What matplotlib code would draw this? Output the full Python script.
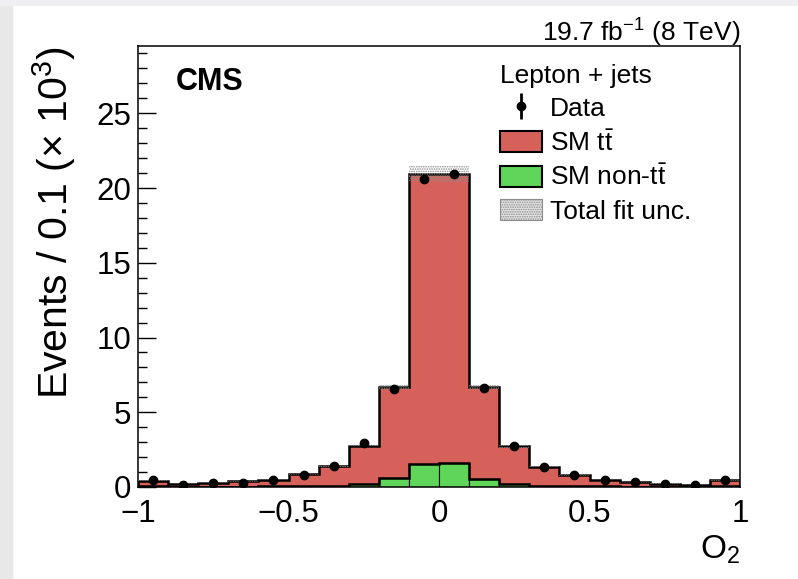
import numpy as np
import matplotlib
matplotlib.use("Agg")
import matplotlib.pyplot as plt
from matplotlib.patches import Patch, Rectangle
from matplotlib.ticker import MultipleLocator

plt.rcParams['font.family'] = ['Liberation Sans', 'DejaVu Sans']
plt.rcParams['mathtext.fontset'] = 'custom'
plt.rcParams['mathtext.rm'] = 'Liberation Sans'
plt.rcParams['mathtext.it'] = 'Liberation Sans:italic'
plt.rcParams['mathtext.bf'] = 'Liberation Sans:bold'
plt.rcParams['hatch.linewidth'] = 0.8

# O2 bins, events / 0.1 in units of 10^3
edges = np.linspace(-1.0, 1.0, 21)
sm_total = [0.42, 0.20, 0.30, 0.38, 0.50, 0.85, 1.38, 2.74, 6.70, 20.96,
            20.92, 6.66, 2.72, 1.36, 0.80, 0.47, 0.31, 0.22, 0.13, 0.45]
sm_nontt = [0.04, 0.02, 0.03, 0.03, 0.04, 0.05, 0.08, 0.18, 0.58, 1.54,
            1.63, 0.56, 0.20, 0.08, 0.05, 0.04, 0.03, 0.03, 0.02, 0.04]
fit_unc = [0.03, 0.02, 0.02, 0.02, 0.03, 0.04, 0.05, 0.08, 0.18, 0.52,
           0.52, 0.18, 0.08, 0.05, 0.04, 0.03, 0.02, 0.02, 0.02, 0.03]
data = [0.45, 0.13, 0.25, 0.30, 0.45, 0.80, 1.40, 2.92, 6.55, 20.63,
        20.92, 6.64, 2.72, 1.36, 0.78, 0.45, 0.31, 0.22, 0.15, 0.50]
data_err = [0.02, 0.01, 0.02, 0.02, 0.02, 0.03, 0.04, 0.05, 0.08, 0.14,
            0.14, 0.08, 0.05, 0.04, 0.03, 0.02, 0.02, 0.02, 0.01, 0.02]

red = '#d6605a'
green = '#5fd65a'

total = np.array(sm_total)
unc = np.array(fit_unc)
centers = 0.5 * (edges[:-1] + edges[1:])

fig = plt.figure(figsize=(7.98, 5.79), dpi=100)
fig.patches.append(Rectangle((0, 0), 12 / 798, 1, transform=fig.transFigure,
                             color='#e8e8e8', zorder=-1))
fig.patches.append(Rectangle((0, 1 - 5 / 579), 1, 5 / 579, transform=fig.transFigure,
                             color='#f0f0f4', zorder=-1))
ax = fig.add_axes([138 / 798, 92 / 579, 602 / 798, 441 / 579])

# stacked prediction: total (red) behind, non-ttbar (green) in front
ax.stairs(total, edges, baseline=0, fill=True, color=red, lw=0, zorder=1)
ax.stairs(total, edges, baseline=0, color='black', lw=1.8, zorder=3)
ax.bar(centers, sm_nontt, width=0.1, color=green, edgecolor='black', lw=0.8, zorder=2)
ax.stairs(sm_nontt, edges, baseline=0, color='black', lw=1.8, zorder=3)
ax.stairs(total + unc, edges, baseline=total - unc, fill=True, facecolor='none',
          edgecolor='#8c8c8c', hatch='.......', lw=0, zorder=4)
ax.errorbar(centers, data, yerr=data_err, fmt='o', color='black', ms=6,
            elinewidth=1.5, capsize=0, zorder=5)

ax.set_xlim(-1, 1)
ax.set_ylim(0, 29.5)
ax.set_xticks([-1, -0.5, 0, 0.5, 1])
ax.set_xticklabels(['\u22121', '\u22120.5', '0', '0.5', '1'])
ax.yaxis.set_major_locator(MultipleLocator(5))
ax.yaxis.set_minor_locator(MultipleLocator(1))
ax.tick_params(axis='y', which='major', direction='in', length=13, width=1,
               labelsize=22.5, pad=5)
ax.tick_params(axis='y', which='minor', direction='in', length=6.5, width=1)
ax.tick_params(axis='x', which='both', length=0, labelsize=22.5, pad=9)
for sp in ax.spines.values():
    sp.set_linewidth(1.1)

ax.set_ylabel('Events / 0.1 ($\\times$ 10$^{3}$)', fontsize=29.5, loc='top')
ax.yaxis.set_label_coords(-0.100, 1.0)
ax.set_xlabel('O$_{2}$', fontsize=24, loc='right', labelpad=3)

ax.text(1.0, 0.994, '19.7 fb$^{-1}$ (8 TeV)', transform=ax.transAxes,
        ha='right', va='bottom', fontsize=19)
ax.text(0.062, 0.918, 'CMS', transform=ax.transAxes, ha='left', va='center',
        fontsize=22, fontweight='bold')

data_handle = ax.errorbar([], [], yerr=[], fmt='o', color='black', ms=6,
                          elinewidth=2, capsize=0)
handles = [
    data_handle,
    Patch(facecolor=red, edgecolor='black', lw=1.5),
    Patch(facecolor=green, edgecolor='black', lw=1.5),
    Patch(facecolor='#e4e4e4', edgecolor='#8c8c8c', hatch='.......', lw=0.8),
]
labels = ['Data', 'SM t$\\bar{\\mathrm{t}}$', 'SM non-t$\\bar{\\mathrm{t}}$',
          'Total fit unc.']
leg = ax.legend(handles, labels, title='Lepton + jets', loc='upper left',
                bbox_to_anchor=(0.601, 0.960), frameon=False, fontsize=19,
                title_fontsize=19, alignment='left', handlelength=1.6,
                handleheight=0.85, handletextpad=0.3, labelspacing=0.33,
                borderaxespad=0, borderpad=0)

fig.savefig('out.png', dpi=100)
